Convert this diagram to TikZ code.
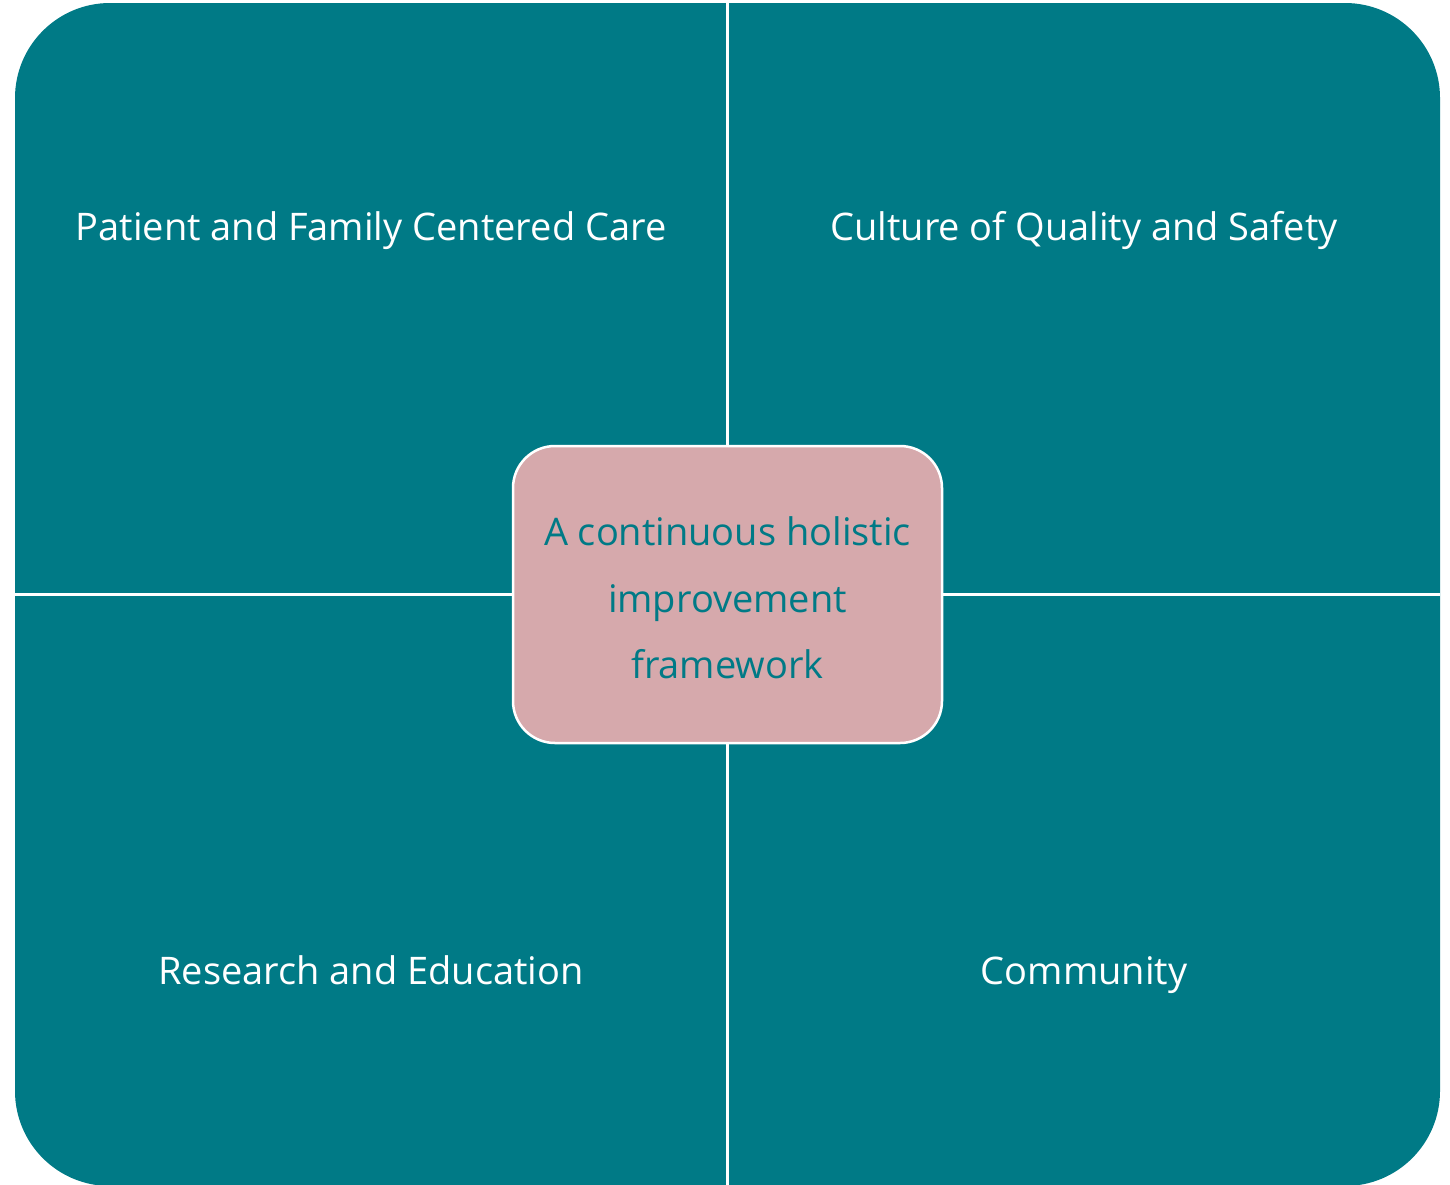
\documentclass[tikz,border=0pt]{standalone}
\usepackage{fontspec}
\setmainfont{Open Sans}
\definecolor{teal1}{HTML}{007A86}
\definecolor{pink1}{HTML}{D6A9AC}
\begin{document}
\begin{tikzpicture}[x=1pt,y=-1pt,
  quadtext/.style={text=white,font=\fontsize{38}{46}\selectfont,anchor=base},
  centertext/.style={text=teal1,font=\fontsize{38}{46}\selectfont,anchor=base},
  centerbox/.style={fill=pink1,draw=white,line width=2.5pt,rounded corners=42pt},
  divider/.style={draw=white,line width=3pt}]
\useasboundingbox (0,0) rectangle (1450,1184);
\fill[teal1,rounded corners=95pt] (15,3) rectangle (1440,1186);
\coordinate (vt) at (727,3);
\coordinate (vb) at (727,1186);
\coordinate (hl) at (15,594);
\coordinate (hr) at (1440,594);
\draw[divider] (vt) -- (vb);
\draw[divider] (hl) -- (hr);
\path[centerbox] (513,446) rectangle (942,743);
\node[quadtext] (pfcc) at (371,240) {Patient and Family Centered Care};
\node[quadtext] (cqs) at (1084,240) {Culture of Quality and Safety};
\node[quadtext] (re) at (371,984) {Research and Education};
\node[quadtext] (com) at (1084,984) {Community};
\node[centertext] (c1) at (727.5,545) {A continuous holistic};
\node[centertext] (c2) at (727.5,612) {improvement};
\node[centertext] (c3) at (727.5,678) {framework};
\end{tikzpicture}
\end{document}
